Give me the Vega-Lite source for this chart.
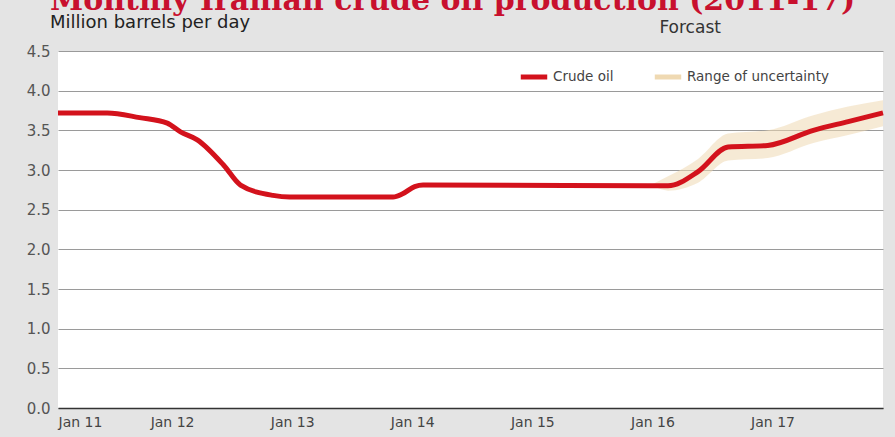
{
  "$schema": "https://vega.github.io/schema/vega-lite/v6.json",
  "width": 825,
  "height": 357,
  "autosize": {"type": "none"},
  "padding": {"left": 58, "top": 51, "right": 12, "bottom": 29},
  "background": "#e4e4e4",
  "config": {"view": {"fill": "white", "stroke": null}, "font": "DejaVu Sans"},
  "title": {
    "text": "Monthly Iranian crude oil production (2011-17)",
    "subtitle": "Million barrels per day",
    "anchor": "start",
    "frame": "group",
    "dx": -8,
    "dy": 30,
    "offset": 17,
    "font": "DejaVu Serif",
    "fontSize": 30,
    "fontWeight": "bold",
    "color": "#c8102e",
    "subtitleFont": "DejaVu Sans",
    "subtitleFontSize": 18,
    "subtitleColor": "#222222",
    "subtitlePadding": -2
  },
  "datasets": {
    "oil": [
      {"year": 2011.05, "value": 3.72},
      {"year": 2011.46, "value": 3.72},
      {"year": 2011.73, "value": 3.66},
      {"year": 2011.96, "value": 3.59},
      {"year": 2012.07, "value": 3.48},
      {"year": 2012.21, "value": 3.38},
      {"year": 2012.43, "value": 3.06},
      {"year": 2012.57, "value": 2.81},
      {"year": 2012.84, "value": 2.68},
      {"year": 2012.98, "value": 2.66},
      {"year": 2013.84, "value": 2.66},
      {"year": 2013.92, "value": 2.70},
      {"year": 2014.02, "value": 2.79},
      {"year": 2014.09, "value": 2.81},
      {"year": 2016.13, "value": 2.80},
      {"year": 2016.38, "value": 2.98},
      {"year": 2016.63, "value": 3.29},
      {"year": 2016.96, "value": 3.31},
      {"year": 2017.34, "value": 3.50},
      {"year": 2017.63, "value": 3.61},
      {"year": 2017.92, "value": 3.72}
    ],
    "band": [
      {"year": 2016.0, "lo": 2.80, "hi": 2.82},
      {"year": 2016.13, "lo": 2.74, "hi": 2.92},
      {"year": 2016.38, "lo": 2.84, "hi": 3.14},
      {"year": 2016.63, "lo": 3.12, "hi": 3.46},
      {"year": 2016.96, "lo": 3.15, "hi": 3.50},
      {"year": 2017.34, "lo": 3.34, "hi": 3.69},
      {"year": 2017.63, "lo": 3.44, "hi": 3.80},
      {"year": 2017.92, "lo": 3.55, "hi": 3.88}
    ],
    "notes": [
      {"label": "Forcast"}
    ]
  },
  "layer": [
    {
      "data": {"name": "band"},
      "mark": {"type": "area", "opacity": 0.55, "interpolate": "monotone"},
      "encoding": {
        "x": {"field": "year", "type": "quantitative"},
        "y": {"field": "lo", "type": "quantitative"},
        "y2": {"field": "hi"},
        "color": {
          "datum": "Range of uncertainty",
          "type": "nominal",
          "scale": {"domain": ["Crude oil", "Range of uncertainty"], "range": ["#d3121c", "#efd9b2"]},
          "legend": {
            "title": null,
            "orient": "none",
            "legendX": 460,
            "legendY": 10,
            "direction": "horizontal",
            "symbolType": "stroke",
            "symbolStrokeWidth": 5,
            "symbolSize": 700,
            "symbolOpacity": 1,
            "labelFont": "DejaVu Sans",
            "labelFontSize": 13.5,
            "labelColor": "#444444",
            "labelOffset": 3,
            "columnPadding": 30
          }
        }
      }
    },
    {
      "data": {"name": "oil"},
      "mark": {"type": "line", "strokeWidth": 5, "interpolate": "monotone"},
      "encoding": {
        "x": {
          "field": "year",
          "type": "quantitative",
          "scale": {"domain": [2011.05, 2017.92], "nice": false, "zero": false},
          "axis": {
            "values": [2011.05, 2012, 2013, 2014, 2015, 2016, 2017],
            "tickCount": 30,
            "labelExpr": "'Jan ' + (floor(datum.value) - 2000)",
            "title": null,
            "grid": false,
            "ticks": false,
            "domainColor": "#333333",
            "domainWidth": 1.5,
            "labelFontSize": 14,
            "labelColor": "#444444",
            "labelPadding": 7
          }
        },
        "y": {
          "field": "value",
          "type": "quantitative",
          "scale": {"domain": [0, 4.5], "nice": false, "zero": true},
          "axis": {
            "values": [0, 0.5, 1, 1.5, 2, 2.5, 3, 3.5, 4, 4.5],
            "tickCount": 30,
            "format": ".1f",
            "labelOverlap": false,
            "labelBound": false,
            "title": null,
            "domain": false,
            "ticks": false,
            "grid": true,
            "gridColor": "#9a9a9a",
            "labelFontSize": 15,
            "labelColor": "#555555",
            "labelPadding": 8
          }
        },
        "color": {"datum": "Crude oil", "type": "nominal"}
      }
    },
    {
      "mark": {"type": "rule", "color": "#555555", "strokeDash": [6, 6], "strokeWidth": 1},
      "encoding": {"x": {"datum": 2016}}
    },
    {
      "data": {"name": "notes"},
      "mark": {"type": "text", "align": "left", "baseline": "middle", "dx": 7, "dy": -23, "fontSize": 17, "color": "#333333", "clip": false},
      "encoding": {"x": {"datum": 2016}, "y": {"datum": 4.5, "type": "quantitative"}, "text": {"field": "label"}}
    }
  ]
}
